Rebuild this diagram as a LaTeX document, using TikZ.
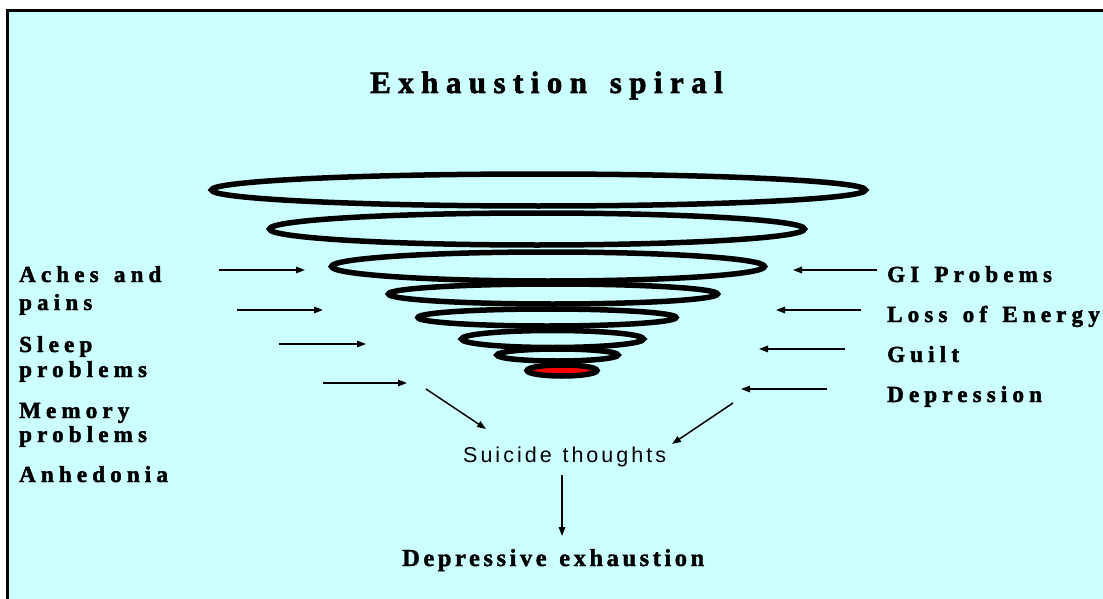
\documentclass[tikz,border=0pt]{standalone}
\usepackage{fontspec}
\setmainfont{Liberation Serif}
\newfontfamily\titlefont[LetterSpace=24,WordSpace=1.5,FakeBold=2]{Liberation Serif}
\newfontfamily\labfont[LetterSpace=22.5,WordSpace=1.4,FakeBold=2]{Liberation Serif}
\newfontfamily\depfont[LetterSpace=14.5,WordSpace=1.3,FakeBold=1.5]{Liberation Serif}
\newfontfamily\suifont[LetterSpace=14,WordSpace=1.2]{Liberation Sans}
\usetikzlibrary{arrows.meta}
\definecolor{bgcyan}{HTML}{CCFFFF}
\tikzset{
  ring/.style={draw=black, line width=5.5pt},
  lab/.style={anchor=base west, inner sep=0pt, font=\labfont\bfseries\fontsize{23}{26}\selectfont},
  arr/.style={line width=1.5pt, -{Triangle[length=9pt,width=6.5pt]}},
}
\begin{document}
\begin{tikzpicture}[x=1pt,y=-1pt]
\useasboundingbox (0,0) rectangle (1103,599);
\clip (0,0) rectangle (1103,599);
\fill[white] (0,0) rectangle (1103,599);
\draw[fill=bgcyan, line width=3pt] (7.5,10.5) rectangle (1120,620);

% spiral rings
\draw[ring] (538.5,190) ellipse [x radius=327pt, y radius=16pt];
\draw[ring] (537,229) ellipse [x radius=267.5pt, y radius=16pt];
\draw[ring] (548,266.5) ellipse [x radius=216.5pt, y radius=14.5pt];
\draw[ring] (553,294) ellipse [x radius=164.5pt, y radius=10pt];
\draw[ring] (547,317.5) ellipse [x radius=129pt, y radius=8.5pt];
\draw[ring] (552.5,339) ellipse [x radius=91pt, y radius=8.5pt];
\draw[ring] (557.5,355) ellipse [x radius=60.5pt, y radius=6pt];
\draw[ring, fill=red] (562,370.5) ellipse [x radius=35pt, y radius=5.5pt];

% title
\node (title) [anchor=base west, inner sep=0pt, font=\titlefont\bfseries\fontsize{31}{36}\selectfont] at (370,93) {Exhaustion spiral};

% left labels
\node (aches1) [lab] at (19,282) {Aches and};
\node (aches2) [lab] at (19,310) {pains};
\node (sleep1) [lab] at (19,352) {Sleep};
\node (sleep2) [lab] at (19,377) {problems};
\node (mem1) [lab] at (19,418) {Memory};
\node (mem2) [lab] at (19,442) {problems};
\node (anh) [lab] at (19,482) {Anhedonia};

% right labels
\node (gi) [lab] at (887,282) {GI Probems};
\node (loss) [lab] at (887,322) {Loss of Energy};
\node (guilt) [lab] at (887,362) {Guilt};
\node (depr) [lab] at (887,402) {Depression};

% bottom texts
\node (sui) [anchor=base west, inner sep=0pt, font=\suifont\fontsize{21.5}{25}\selectfont] at (463,462) {Suicide thoughts};
\node (dex) [anchor=base west, inner sep=0pt, font=\depfont\bfseries\fontsize{24.5}{28}\selectfont] at (402,566) {Depressive exhaustion};

% arrow end points
\coordinate (a1s) at (219,270); \coordinate (a1e) at (305,270);
\coordinate (a2s) at (237,310); \coordinate (a2e) at (323,310);
\coordinate (a3s) at (279,344); \coordinate (a3e) at (366,344);
\coordinate (a4s) at (323,383); \coordinate (a4e) at (407,383);
\coordinate (ads) at (426,389); \coordinate (ade) at (486,429);
\coordinate (b1s) at (877,270); \coordinate (b1e) at (793,270);
\coordinate (b2s) at (861,310); \coordinate (b2e) at (776,310);
\coordinate (b3s) at (845,349); \coordinate (b3e) at (759,349);
\coordinate (b4s) at (827,389); \coordinate (b4e) at (741,389);
\coordinate (bds) at (733,403); \coordinate (bde) at (672,444);
\coordinate (ds) at (562,475); \coordinate (de) at (562,536);

\draw[arr] (a1s) -- (a1e);
\draw[arr] (a2s) -- (a2e);
\draw[arr] (a3s) -- (a3e);
\draw[arr] (a4s) -- (a4e);
\draw[arr] (ads) -- (ade);
\draw[arr] (b1s) -- (b1e);
\draw[arr] (b2s) -- (b2e);
\draw[arr] (b3s) -- (b3e);
\draw[arr] (b4s) -- (b4e);
\draw[arr] (bds) -- (bde);
\draw[arr] (ds) -- (de);
\end{tikzpicture}
\end{document}
